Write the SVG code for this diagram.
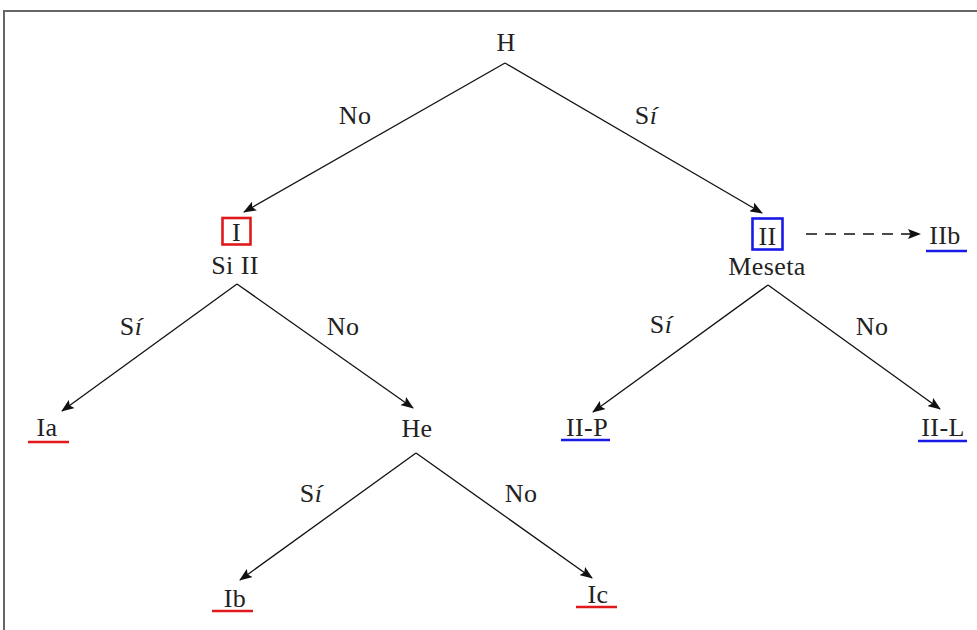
<svg xmlns="http://www.w3.org/2000/svg" width="977" height="630" viewBox="0 0 977 630">
<style>
text{font-family:"Liberation Serif","DejaVu Serif",serif;font-size:26px;letter-spacing:0.4px;fill:#222;text-anchor:middle}
.e{stroke:#111;stroke-width:1.3;fill:none}
.d{stroke-dasharray:11 8}
.red{stroke:#e0191c;stroke-width:2.6;fill:none}
.blue{stroke:#1a1ae6;stroke-width:2.6;fill:none}
.frame{stroke:#666;stroke-width:2;fill:none}
</style>
<defs>
<marker id="ah" viewBox="0 0 13 10" refX="12" refY="5" markerWidth="13" markerHeight="10" markerUnits="userSpaceOnUse" orient="auto">
<path d="M0,0 L13,5 L0,10 L2.5,5 Z" fill="#111"/>
</marker>
</defs>
<rect width="977" height="630" fill="#fff"/>
<path class="frame" d="M4,640 L4,11 L985,11"/>
<g id="connectors">
<path class="e" d="M505,63 L244,212" marker-end="url(#ah)"/>
<path class="e" d="M505,63 L762,213" marker-end="url(#ah)"/>
<path class="e" d="M237,284 L62,411" marker-end="url(#ah)"/>
<path class="e" d="M237,284 L413,408" marker-end="url(#ah)"/>
<path class="e" d="M768,285 L593,412" marker-end="url(#ah)"/>
<path class="e" d="M768,285 L940,409" marker-end="url(#ah)"/>
<path class="e" d="M416,453 L240,580" marker-end="url(#ah)"/>
<path class="e" d="M416,453 L592,578" marker-end="url(#ah)"/>
<path class="e d" d="M806,234 L920,234" marker-end="url(#ah)"/>
<text x="355" y="124">No</text>
<text x="646" y="124">S<tspan font-style="italic">í</tspan></text>
<text x="131" y="335">S<tspan font-style="italic">í</tspan></text>
<text x="343" y="335">No</text>
<text x="661" y="333">S<tspan font-style="italic">í</tspan></text>
<text x="872" y="335">No</text>
<text x="311" y="502">S<tspan font-style="italic">í</tspan></text>
<text x="521" y="502">No</text>
</g>
<g id="node-H"><text x="506" y="51">H</text></g>
<g id="node-I">
<rect class="red" x="222.5" y="218" width="28" height="26.5"/>
<text x="236.5" y="241">I</text>
<text x="235" y="274">Si II</text>
</g>
<g id="node-II">
<rect class="blue" x="752.5" y="218.5" width="30" height="31"/>
<text x="767.5" y="245">II</text>
<text x="767" y="275">Meseta</text>
</g>
<g id="node-IIb">
<text x="945" y="244">IIb</text>
<line class="blue" x1="926" y1="251" x2="967" y2="251"/>
</g>
<g id="node-Ia">
<text x="47" y="436">Ia</text>
<line class="red" x1="28" y1="442" x2="69" y2="442"/>
</g>
<g id="node-He"><text x="417" y="437">He</text></g>
<g id="node-IIP">
<text x="587" y="436">II-P</text>
<line class="blue" x1="561" y1="440" x2="610" y2="440"/>
</g>
<g id="node-IIL">
<text x="943" y="436">II-L</text>
<line class="blue" x1="918" y1="441" x2="967" y2="441"/>
</g>
<g id="node-Ib">
<text x="235" y="607">Ib</text>
<line class="red" x1="212" y1="611" x2="253" y2="611"/>
</g>
<g id="node-Ic">
<text x="598" y="603">Ic</text>
<line class="red" x1="576" y1="607" x2="617" y2="607"/>
</g>
</svg>
